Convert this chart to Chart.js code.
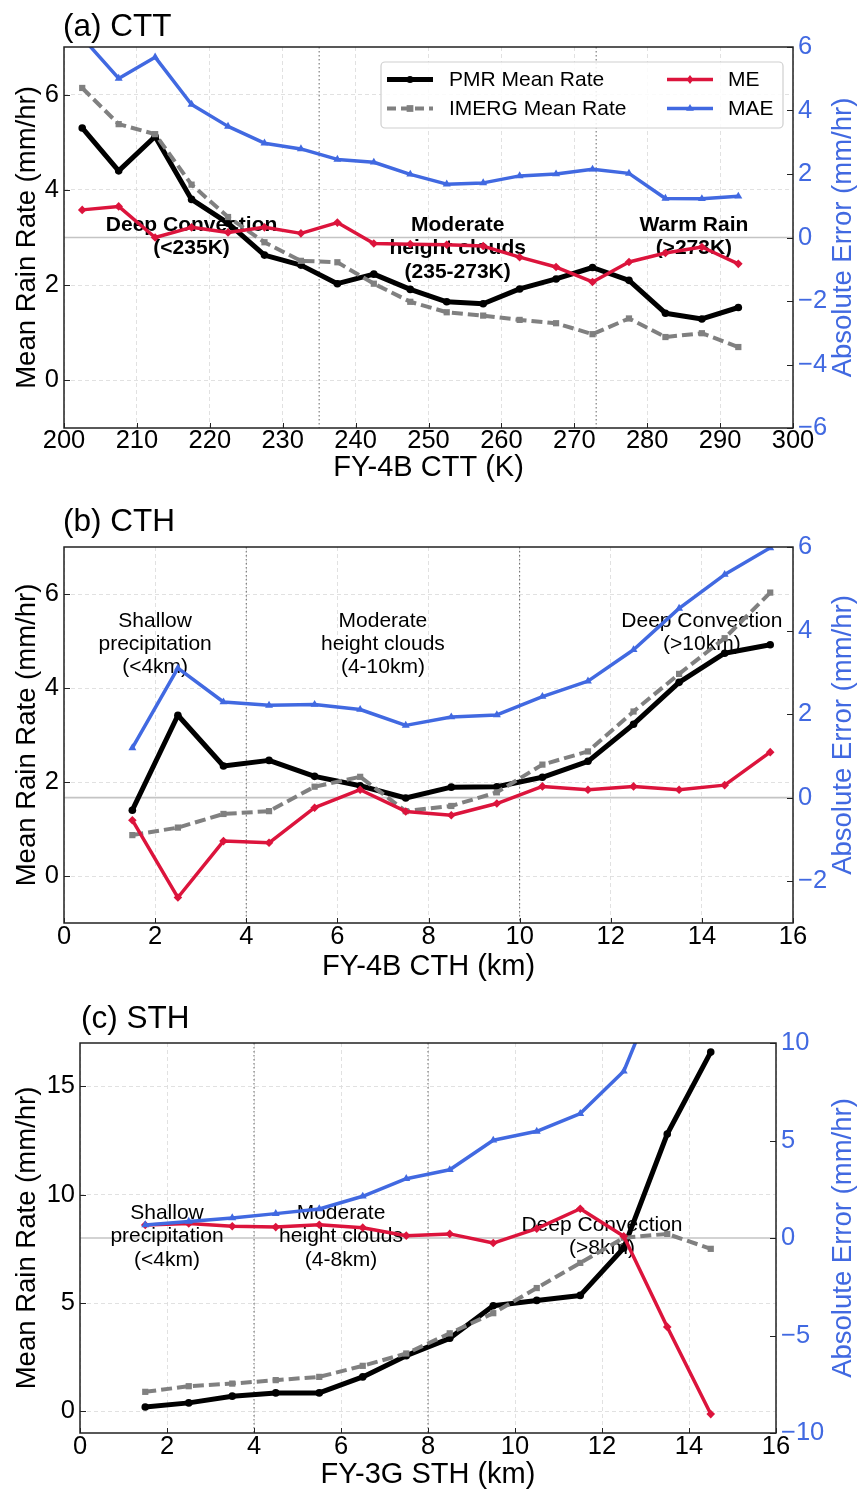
<!DOCTYPE html>
<html><head><meta charset="utf-8">
<script src="https://cdn.jsdelivr.net/npm/chart.js"></script>
<style>
html,body{margin:0;padding:0;background:#fff;}
#wrap{position:relative;width:862px;height:1490px;overflow:hidden;background:#fff;}
canvas{position:absolute;left:0;}
</style></head><body>
<div id="wrap">
<canvas id="ca" width="862" height="490" style="top:0px;width:862px;height:490px"></canvas>
<canvas id="cb" width="862" height="500" style="top:490px;width:862px;height:500px"></canvas>
<canvas id="cc" width="862" height="500" style="top:990px;width:862px;height:500px"></canvas>
</div>
<script>
// ---------------- DATA ----------------
// (a) CTT
const cttBins  = [202.5,207.5,212.5,217.5,222.5,227.5,232.5,237.5,242.5,247.5,252.5,257.5,262.5,267.5,272.5,277.5,282.5,287.5,292.5];
const cttPMR   = [5.30,4.40,5.12,3.80,3.30,2.63,2.42,2.03,2.23,1.91,1.65,1.61,1.92,2.13,2.37,2.10,1.41,1.29,1.53];
const cttIMERG = [6.14,5.38,5.17,4.11,3.43,2.90,2.51,2.48,2.03,1.65,1.43,1.36,1.27,1.20,0.97,1.30,0.91,0.99,0.70];
const cttME    = [0.87,0.98,0.00,0.32,0.16,0.32,0.13,0.47,-0.19,-0.21,-0.23,-0.27,-0.62,-0.93,-1.40,-0.77,-0.49,-0.30,-0.83];
const cttMAE   = [6.30,5.01,5.68,4.19,3.50,2.97,2.79,2.46,2.37,1.99,1.68,1.72,1.94,2.00,2.15,2.02,1.23,1.22,1.30];
const cttXTicks = [200,210,220,230,240,250,260,270,280,290,300];
const cttYTicks = [0,2,4,6];
const cttY2Ticks = [-6,-4,-2,0,2,4,6];
const cttThresholds = [235,273];

// (b) CTH
const cthBins  = [1.5,2.5,3.5,4.5,5.5,6.5,7.5,8.5,9.5,10.5,11.5,12.5,13.5,14.5,15.5];
const cthPMR   = [1.40,3.42,2.34,2.46,2.12,1.92,1.66,1.89,1.90,2.10,2.44,3.23,4.12,4.74,4.92];
const cthIMERG = [0.87,1.03,1.32,1.38,1.90,2.11,1.38,1.49,1.78,2.37,2.65,3.50,4.30,5.06,6.03];
const cthME    = [-0.54,-2.39,-1.04,-1.08,-0.24,0.19,-0.33,-0.42,-0.14,0.27,0.19,0.27,0.19,0.30,1.09];
const cthMAE   = [1.19,3.10,2.29,2.21,2.23,2.11,1.73,1.93,1.98,2.42,2.79,3.54,4.53,5.34,5.98];
const cthXTicks = [0,2,4,6,8,10,12,14,16];
const cthYTicks = [0,2,4,6];
const cthY2Ticks = [-2,0,2,4,6];
const cthThresholds = [4,10];

// (c) STH
const sthBins  = [1.5,2.5,3.5,4.5,5.5,6.5,7.5,8.5,9.5,10.5,11.5,12.5,13.5,14.5];
const sthPMR   = [0.20,0.39,0.70,0.85,0.85,1.59,2.57,3.37,4.87,5.12,5.35,7.54,12.80,16.58];
const sthIMERG = [0.90,1.16,1.28,1.44,1.59,2.10,2.67,3.60,4.53,5.69,6.85,8.01,8.19,7.50];
const sthME    = [0.67,0.74,0.60,0.56,0.68,0.53,0.12,0.21,-0.26,0.48,1.50,0.09,-4.56,-9.03];
const sthMAE   = [0.67,0.85,1.03,1.25,1.49,2.14,3.04,3.50,5.01,5.47,6.38,8.55,14.0,16.5];
const sthXTicks = [0,2,4,6,8,10,12,14,16];
const sthYTicks = [0,5,10,15];
const sthY2Ticks = [-10,-5,0,5,10];
const sthThresholds = [4,8];

const seriesNames = ['PMR Mean Rate','IMERG Mean Rate','ME','MAE'];

// ---------------- STYLE ----------------
const FONT = "'Liberation Sans', Arial, Helvetica, sans-serif";
const BLUE = '#4169e1', RED = '#dc143c', GREY = '#808080', BLACK = '#000000';
const TICK_SIZE = 25.5;

function fmt(v){ return (v < 0 ? '\u2212' : '') + Math.abs(v); }
function pts(xs, ys){ return xs.map((x, i) => ({x: x, y: ys[i]})); }

function drawMarker(ctx, style, x, y, r, color){
  ctx.save(); ctx.fillStyle = color; ctx.beginPath();
  if (style === 'circle') { ctx.arc(x, y, r, 0, Math.PI*2); }
  else if (style === 'rect') { ctx.rect(x-r*0.75, y-r*0.75, r*1.5, r*1.5); }
  else if (style === 'rectRot') { ctx.moveTo(x, y-r); ctx.lineTo(x+r*0.75, y); ctx.lineTo(x, y+r); ctx.lineTo(x-r*0.75, y); ctx.closePath(); }
  else if (style === 'triangle') { ctx.moveTo(x, y-r); ctx.lineTo(x+r*0.87, y+r*0.5); ctx.lineTo(x-r*0.87, y+r*0.5); ctx.closePath(); }
  ctx.fill(); ctx.restore();
}

const seriesStyle = [
  {color: BLACK, width: 5, dash: [], point: 'circle', r: 3.8, axis: 'y', order: 4},
  {color: GREY, width: 4, dash: [11,5], point: 'rect', r: 4.4, axis: 'y', order: 3},
  {color: RED, width: 3.5, dash: [], point: 'rectRot', r: 4.3, axis: 'y2', order: 2},
  {color: BLUE, width: 3.5, dash: [], point: 'triangle', r: 4.6, axis: 'y2', order: 1}
];

function makePanel(id, c){
  const H = c.H;
  const values = [c.pmr, c.imerg, c.me, c.mae];
  const datasets = values.map((vals, i) => {
    const s = seriesStyle[i];
    return {
      label: seriesNames[i], data: pts(c.xs, vals), yAxisID: s.axis,
      borderColor: s.color, backgroundColor: s.color, borderWidth: s.width,
      borderDash: s.dash, borderJoinStyle: 'round', borderCapStyle: 'butt',
      pointStyle: s.point, pointRadius: s.r,
      pointBorderWidth: 0, pointHoverRadius: 0,
      tension: 0, clip: 0, order: s.order
    };
  });

  const panelPlugin = {
    id: 'panel' + id,
    beforeDatasetsDraw(chart){
      const {ctx, chartArea: a, scales} = chart;
      ctx.save();
      const zy = scales.y2.getPixelForValue(0);
      ctx.strokeStyle = '#c4c4c4'; ctx.lineWidth = 1.6; ctx.setLineDash([]);
      ctx.beginPath(); ctx.moveTo(a.left, zy); ctx.lineTo(a.right, zy); ctx.stroke();
      ctx.strokeStyle = '#666'; ctx.lineWidth = 1; ctx.setLineDash([1.5, 2.5]);
      c.thresholds.forEach(t => {
        const px = scales.x.getPixelForValue(t);
        ctx.beginPath(); ctx.moveTo(px, a.top); ctx.lineTo(px, a.bottom); ctx.stroke();
      });
      ctx.setLineDash([]);
      ctx.fillStyle = '#000'; ctx.textAlign = 'center'; ctx.textBaseline = 'middle';
      c.notes.forEach(n => {
        ctx.font = (c.bold ? 'bold ' : '') + '21px ' + FONT;
        const px = scales.x.getPixelForValue(n.x);
        const py = scales.y.getPixelForValue(n.y);
        n.lines.forEach((t, i) => ctx.fillText(t, px, py + i * c.gap));
      });
      ctx.restore();
    },
    afterDraw(chart){
      const {ctx, chartArea: a, scales} = chart;
      ctx.save();
      ctx.strokeStyle = '#222'; ctx.lineWidth = 1;
      c.xTicks.forEach(v => { const px = Math.round(scales.x.getPixelForValue(v)) + 0.5;
        ctx.beginPath(); ctx.moveTo(px, a.bottom); ctx.lineTo(px, a.bottom - 5); ctx.stroke(); });
      c.yTicks.forEach(v => { const py = Math.round(scales.y.getPixelForValue(v)) + 0.5;
        ctx.beginPath(); ctx.moveTo(a.left, py); ctx.lineTo(a.left + 6, py); ctx.stroke(); });
      c.y2Ticks.forEach(v => { const py = Math.round(scales.y2.getPixelForValue(v)) + 0.5;
        ctx.beginPath(); ctx.moveTo(a.right, py); ctx.lineTo(a.right - 6, py); ctx.stroke(); });
      ctx.strokeStyle = '#222'; ctx.lineWidth = 1.5;
      ctx.strokeRect(a.left, a.top, a.right - a.left, a.bottom - a.top);
      ctx.fillStyle = BLUE; ctx.font = '27.5px ' + FONT; ctx.textAlign = 'center'; ctx.textBaseline = 'middle';
      ctx.translate(843, (a.top + a.bottom) / 2); ctx.rotate(-Math.PI / 2);
      ctx.fillText('Absolute Error (mm/hr)', 0, 0);
      ctx.restore();
      ctx.save();
      ctx.fillStyle = '#000'; ctx.font = '31.5px ' + FONT; ctx.textAlign = 'left'; ctx.textBaseline = 'alphabetic';
      ctx.fillText(c.title, c.titleX, c.titleY);
      ctx.restore();
      if (c.legend) {
        ctx.save();
        const L = c.legend;
        ctx.beginPath();
        if (ctx.roundRect) ctx.roundRect(L.x, L.y, L.w, L.h, 4); else ctx.rect(L.x, L.y, L.w, L.h);
        ctx.fillStyle = 'rgba(255,255,255,0.85)'; ctx.fill();
        ctx.strokeStyle = '#cfcfcf'; ctx.lineWidth = 1.2; ctx.stroke();
        const cols = [[0,1],[2,3]];
        cols.forEach((col, ci) => {
          col.forEach((si, ri) => {
            const s = seriesStyle[si];
            const lx0 = L.colX[ci], lx1 = lx0 + 46, ly = L.rowY[ri];
            ctx.strokeStyle = s.color; ctx.lineWidth = s.width; ctx.setLineDash(s.dash.length ? [9,5] : []);
            ctx.lineCap = 'butt';
            ctx.beginPath(); ctx.moveTo(lx0, ly); ctx.lineTo(lx1, ly); ctx.stroke();
            ctx.setLineDash([]);
            drawMarker(ctx, s.point, (lx0 + lx1) / 2, ly, s.point === 'circle' ? 3.5 : 4.5, s.color);
            ctx.fillStyle = '#000'; ctx.font = '21px ' + FONT; ctx.textAlign = 'left'; ctx.textBaseline = 'middle';
            ctx.fillText(seriesNames[si], L.textX[ci], ly + 1);
          });
        });
        ctx.restore();
      }
    }
  };

  const area = c.area;
  return new Chart(document.getElementById(id), {
    type: 'line',
    data: {datasets: datasets},
    options: {
      responsive: false, animation: false, devicePixelRatio: 1,
      layout: {padding: {top: area.T, left: 0, right: 0, bottom: 0}},
      plugins: {legend: {display: false}, tooltip: {enabled: false}, title: {display: false}},
      events: [],
      scales: {
        x: {
          type: 'linear', position: 'bottom', min: c.xMin, max: c.xMax,
          afterBuildTicks: ax => { ax.ticks = c.xTicks.map(v => ({value: v})); },
          afterFit: ax => { ax.height = H - area.B; },
          grid: {color: '#dedede', lineWidth: 0.9, drawTicks: false},
          border: {display: false, dash: [4, 3]},
          ticks: {autoSkip: false, maxRotation: 0, padding: c.xTickPad, color: '#000',
                  font: {family: FONT, size: TICK_SIZE, lineHeight: 1}, callback: v => fmt(v)},
          title: {display: true, text: c.xTitle, color: '#000',
                  font: {family: FONT, size: 29, lineHeight: 1}, padding: {top: 0, bottom: c.xTitlePad}}
        },
        y: {
          type: 'linear', position: 'left', min: c.yMin, max: c.yMax,
          afterBuildTicks: ax => { ax.ticks = c.yTicks.map(v => ({value: v})); },
          afterFit: ax => { ax.width = area.L; },
          grid: {color: '#dedede', lineWidth: 0.9, drawTicks: false},
          border: {display: false, dash: [4, 3]},
          ticks: {autoSkip: false, padding: 5, color: '#000',
                  font: {family: FONT, size: TICK_SIZE, lineHeight: 1}, callback: v => fmt(v)},
          title: {display: true, text: 'Mean Rain Rate (mm/hr)', color: '#000',
                  font: {family: FONT, size: 27.5, lineHeight: 1}, padding: {top: 14, bottom: 0}}
        },
        y2: {
          type: 'linear', position: 'right', min: c.y2Min, max: c.y2Max,
          afterBuildTicks: ax => { ax.ticks = c.y2Ticks.map(v => ({value: v})); },
          afterFit: ax => { ax.width = 862 - area.R; },
          grid: {display: false, drawTicks: false},
          border: {display: false},
          ticks: {autoSkip: false, padding: 5, color: BLUE,
                  font: {family: FONT, size: TICK_SIZE, lineHeight: 1}, callback: v => fmt(v)},
          title: {display: false}
        }
      }
    },
    plugins: [panelPlugin]
  });
}

makePanel('ca', {
  H: 490, area: {L: 64, R: 793, T: 47, B: 428},
  xs: cttBins, pmr: cttPMR, imerg: cttIMERG, me: cttME, mae: cttMAE,
  xMin: 200, xMax: 300, xTicks: cttXTicks,
  yMin: -1, yMax: 7, yTicks: cttYTicks,
  y2Min: -6, y2Max: 6, y2Ticks: cttY2Ticks,
  thresholds: cttThresholds,
  xTitle: 'FY-4B CTT (K)', xTickPad: 0.5, xTitlePad: 7.5,
  title: '(a) CTT', titleX: 63, titleY: 36,
  bold: true, gap: 23.5,
  notes: [
    {x: 217.5, y: 3.26, lines: ['Deep Convection', '(<235K)']},
    {x: 254.0, y: 3.26, lines: ['Moderate', 'height clouds', '(235-273K)']},
    {x: 286.4, y: 3.26, lines: ['Warm Rain', '(>273K)']}
  ],
  legend: {x: 381, y: 62, w: 402, h: 66, colX: [387, 667], textX: [449, 728], rowY: [79.5, 108.5]}
});

makePanel('cb', {
  H: 500, area: {L: 64, R: 793, T: 57, B: 433},
  xs: cthBins, pmr: cthPMR, imerg: cthIMERG, me: cthME, mae: cthMAE,
  xMin: 0, xMax: 16, xTicks: cthXTicks,
  yMin: -1, yMax: 7, yTicks: cthYTicks,
  y2Min: -3, y2Max: 6, y2Ticks: cthY2Ticks,
  thresholds: cthThresholds,
  xTitle: 'FY-4B CTH (km)', xTickPad: 1, xTitlePad: 8.8,
  title: '(b) CTH', titleX: 63, titleY: 41,
  bold: false, gap: 23,
  notes: [
    {x: 2.0, y: 5.43, lines: ['Shallow', 'precipitation', '(<4km)']},
    {x: 7.0, y: 5.43, lines: ['Moderate', 'height clouds', '(4-10km)']},
    {x: 14.0, y: 5.43, lines: ['Deep Convection', '(>10km)']}
  ],
  legend: null
});

makePanel('cc', {
  H: 500, area: {L: 80, R: 776, T: 53, B: 443},
  xs: sthBins, pmr: sthPMR, imerg: sthIMERG, me: sthME, mae: sthMAE,
  xMin: 0, xMax: 16, xTicks: sthXTicks,
  yMin: -1, yMax: 17, yTicks: sthYTicks,
  y2Min: -10, y2Max: 10, y2Ticks: sthY2Ticks,
  thresholds: sthThresholds,
  xTitle: 'FY-3G STH (km)', xTickPad: 1, xTitlePad: 0.5,
  title: '(c) STH', titleX: 81, titleY: 38,
  bold: false, gap: 23.5,
  notes: [
    {x: 2.0, y: 9.15, lines: ['Shallow', 'precipitation', '(<4km)']},
    {x: 6.0, y: 9.15, lines: ['Moderate', 'height clouds', '(4-8km)']},
    {x: 12.0, y: 8.6, lines: ['Deep Convection', '(>8km)']}
  ],
  legend: null
});
</script>
</body></html>
